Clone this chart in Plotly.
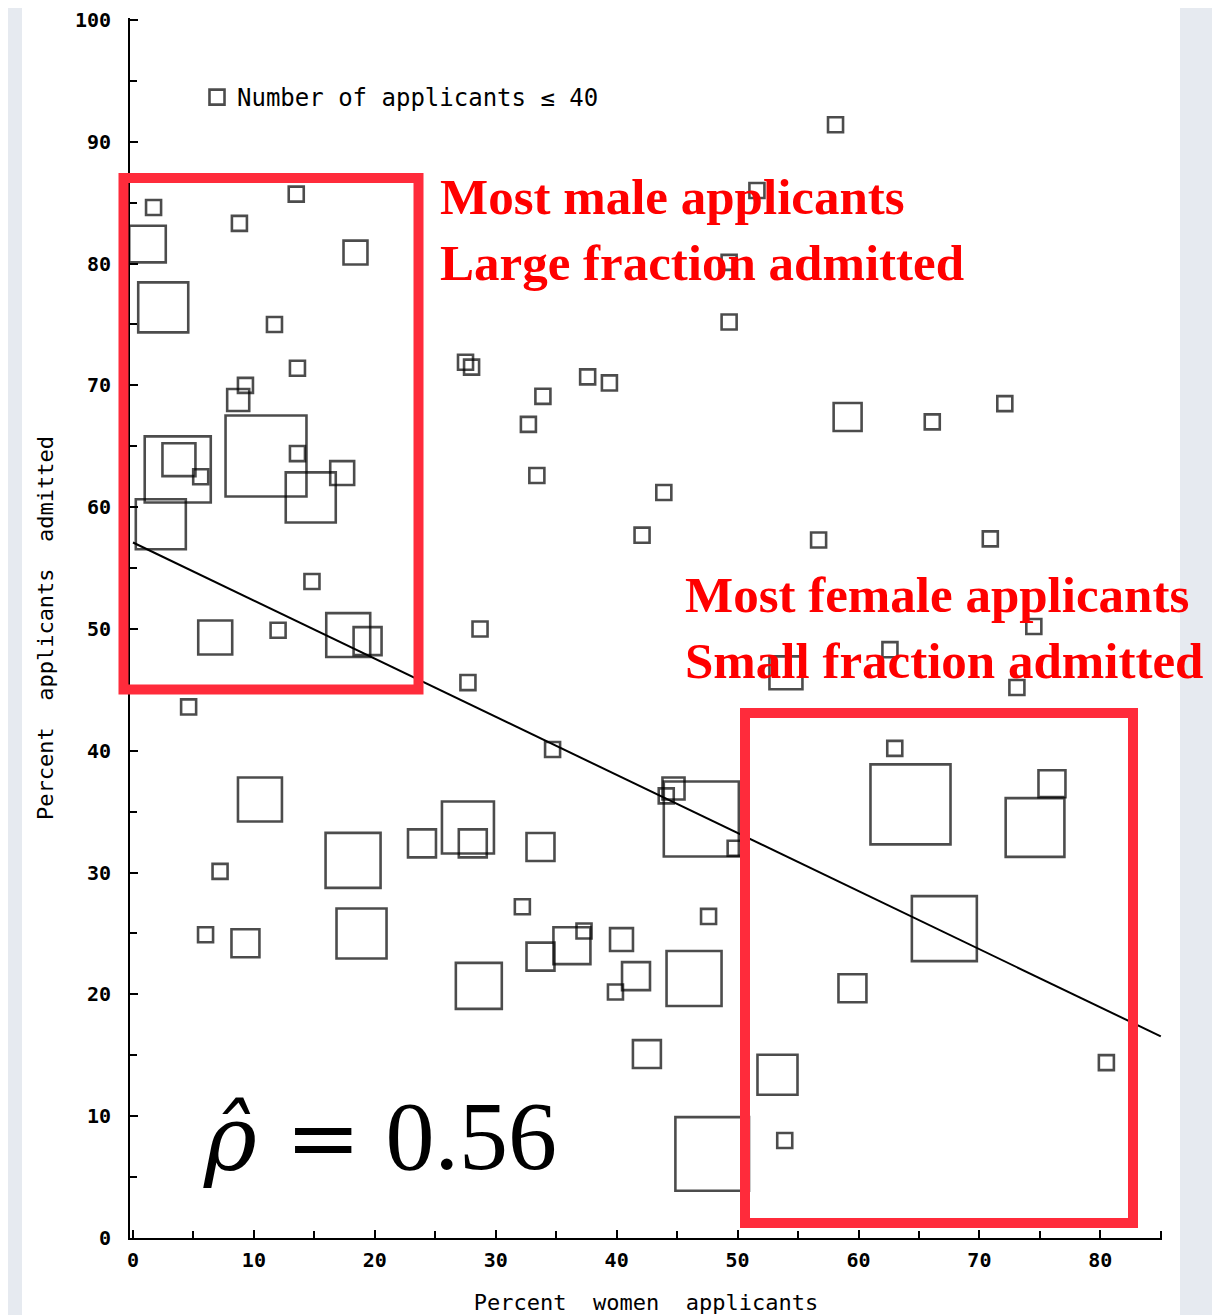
import numpy as np
import plotly.graph_objects as go

# ---- data (one entry per department) ----
pct_women = [1.7, 1.2, 2.5, 8.8, 13.5, 18.4, 11.7, 13.6, 9.3, 8.7,
             3.7, 3.8, 5.6, 2.3, 11.0, 13.6, 14.7, 17.3, 14.8, 6.8,
             12.0, 17.8, 19.4, 4.6, 10.5, 7.2, 6.0, 9.3, 18.2, 18.9,
             23.9, 27.7, 28.1, 33.7, 32.2, 28.6, 34.7, 47.0, 44.7, 44.1,
             49.8, 33.7, 36.3, 37.3, 40.4, 41.6, 39.9, 46.4, 47.6, 42.5,
             47.9, 53.3, 53.9, 59.5, 67.1, 80.5, 64.3, 74.6, 76.0, 63.0,
             27.5, 28.0, 37.6, 39.4, 33.9, 32.7, 33.4, 43.9, 42.1, 28.7,
             27.7, 58.1, 51.6, 49.3, 49.3, 59.1, 66.1, 72.1, 56.7, 70.9,
             74.5, 62.6, 54.0, 73.1]
pct_admitted = [84.6, 81.6, 76.4, 83.3, 85.7, 80.9, 75.0, 71.4, 70.0, 68.8,
                63.1, 63.9, 62.5, 58.6, 64.2, 64.4, 60.8, 62.8, 53.9, 49.3,
                49.9, 49.5, 49.0, 43.6, 36.0, 30.1, 24.9, 24.2, 31.0, 25.0,
                32.4, 33.7, 32.4, 32.1, 27.2, 20.7, 40.1, 34.4, 36.9, 36.3,
                32.0, 23.1, 24.0, 25.2, 24.5, 21.5, 20.2, 21.3, 26.4, 15.1,
                6.9, 13.4, 8.0, 20.5, 25.4, 14.4, 35.6, 33.7, 37.3, 40.2,
                71.9, 71.5, 70.7, 70.2, 69.1, 66.8, 62.6, 61.2, 57.7, 50.0,
                45.6, 91.4, 86.0, 80.1, 75.2, 67.4, 67.0, 68.5, 57.3, 57.4,
                50.2, 48.3, 46.4, 45.2]
applicants = [30, 205, 374, 30, 30, 93, 30, 30, 30, 80,
              640, 169, 30, 374, 950, 30, 374, 93, 40, 179,
              30, 292, 124, 30, 292, 30, 30, 124, 449, 374,
              124, 403, 124, 124, 30, 318, 30, 820, 80, 30,
              30, 124, 210, 30, 86, 124, 30, 449, 30, 124,
              790, 244, 30, 124, 620, 30, 930, 510, 116, 30,
              30, 30, 30, 30, 30, 30, 30, 30, 30, 30,
              30, 30, 30, 30, 30, 124, 30, 30, 30, 30,
              30, 30, 169, 30]

fit_intercept = 57.1
fit_slope = -0.477
fit_x = [0, 85]

x_ticks = [0, 10, 20, 30, 40, 50, 60, 70, 80]
y_ticks = [0, 10, 20, 30, 40, 50, 60, 70, 80, 90, 100]

# ---- figure geometry (page has an 8px body margin) ----
OFF = 8
W, H = 1220 - OFF, 1315 - OFF
ML, MR, MT, MB = 122, 58, 10, 77
PW, PH = W - ML - MR, H - MT - MB


def px_x(p):  # screen pixel -> paper coordinate (decoration placement)
    return (p - OFF - ML) / PW


def px_y(p):
    return (OFF + MT + PH - p) / PH


xw = np.array(pct_women)
ya = np.array(pct_admitted)
na = np.array(applicants)
side = 2.69 * np.sqrt(np.maximum(na, 40)) - 2
small = na <= 40

fig = go.Figure()
fig.add_trace(go.Scatter(
    x=xw[~small], y=ya[~small], mode="markers", showlegend=False,
    marker=dict(symbol="square-open", size=side[~small], color="#000",
                line=dict(width=2.6, color="#000")),
    hoverinfo="x+y"))
fig.add_trace(go.Scatter(
    x=xw[small], y=ya[small], mode="markers",
    name="Number of applicants ≤ 40",
    marker=dict(symbol="square-open", size=side[small], color="#000",
                line=dict(width=2.6, color="#000")),
    hoverinfo="x+y"))
fx = np.array(fit_x, dtype=float)
fig.add_trace(go.Scatter(
    x=fx, y=fit_intercept + fit_slope * fx, mode="lines", showlegend=False,
    line=dict(color="#000", width=2), hoverinfo="skip"))

red_box = "#ff2b3b"
shapes = [
    dict(type="rect", xref="paper", yref="paper", layer="below",
         x0=px_x(22), x1=px_x(1180), y0=px_y(1330), y1=px_y(7),
         fillcolor="white", line=dict(width=0)),
    dict(type="rect", xref="paper", yref="paper",
         x0=px_x(123.5), x1=px_x(418.5), y0=px_y(689.5), y1=px_y(178),
         line=dict(color=red_box, width=10)),
    dict(type="rect", xref="paper", yref="paper",
         x0=px_x(745), x1=px_x(1133), y0=px_y(1223), y1=px_y(713),
         line=dict(color=red_box, width=10)),
]

red_font = dict(family="Liberation Serif", size=51, color="#ff0000", weight="bold")
annotations = [
    dict(xref="paper", yref="paper", x=px_x(438), y=px_y(230),
         xanchor="left", yanchor="middle", align="left", showarrow=False,
         text="Most male applicants<br>Large fraction admitted", font=red_font),
    dict(xref="paper", yref="paper", x=px_x(683), y=px_y(628),
         xanchor="left", yanchor="middle", align="left", showarrow=False,
         text="Most female applicants<br>Small fraction admitted", font=red_font),
    dict(xref="paper", yref="paper", x=px_x(380), y=px_y(1136),
         xanchor="center", yanchor="middle", showarrow=False,
         text=("<span style=\"font-family:'DejaVu Serif';font-size:90px\">"
               "<i>ρ̂</i> =</span> 0.56"),
         font=dict(family="Liberation Serif", size=98, color="#000")),
]

tick_font = dict(family="DejaVu Sans Mono", size=20, color="#000", weight="bold")
title_font = dict(family="DejaVu Sans Mono", size=22, color="#000")

fig.update_layout(
    width=W, height=H,
    margin=dict(l=ML, r=MR, t=MT, b=MB),
    paper_bgcolor="#e6eaf0", plot_bgcolor="white",
    shapes=shapes, annotations=annotations,
    showlegend=True,
    legend=dict(x=px_x(197), y=px_y(75), xanchor="left", yanchor="top",
                bgcolor="rgba(0,0,0,0)",
                font=dict(family="DejaVu Sans Mono", size=24, color="#000")),
    xaxis=dict(range=[-3 / 12.09, 85.1], showgrid=False, zeroline=False,
               automargin=False, ticklabeloverflow="allow",
               showline=True, linecolor="#000", linewidth=2,
               tickmode="array", tickvals=x_ticks,
               ticktext=[str(v) for v in x_ticks],
               ticks="inside", ticklen=8, tickwidth=2, tickcolor="#000",
               minor=dict(dtick=5, ticks="inside", ticklen=7, tickwidth=2,
                          tickcolor="#000", showgrid=False),
               tickfont=tick_font, ticklabelstandoff=3,
               title=dict(text="Percent  women  applicants", font=title_font,
                          standoff=26)),
    yaxis=dict(range=[0, 100.16], showgrid=False, zeroline=False,
               automargin=False, ticklabeloverflow="allow",
               showline=True, linecolor="#000", linewidth=2,
               tickmode="array", tickvals=y_ticks,
               ticktext=[str(v) for v in y_ticks],
               ticks="inside", ticklen=8, tickwidth=2, tickcolor="#000",
               minor=dict(dtick=5, ticks="inside", ticklen=7, tickwidth=2,
                          tickcolor="#000", showgrid=False),
               tickfont=tick_font, ticklabelstandoff=13,
               title=dict(text="Percent  applicants  admitted", font=title_font,
                          standoff=15)),
)

fig.write_html("out.html")
